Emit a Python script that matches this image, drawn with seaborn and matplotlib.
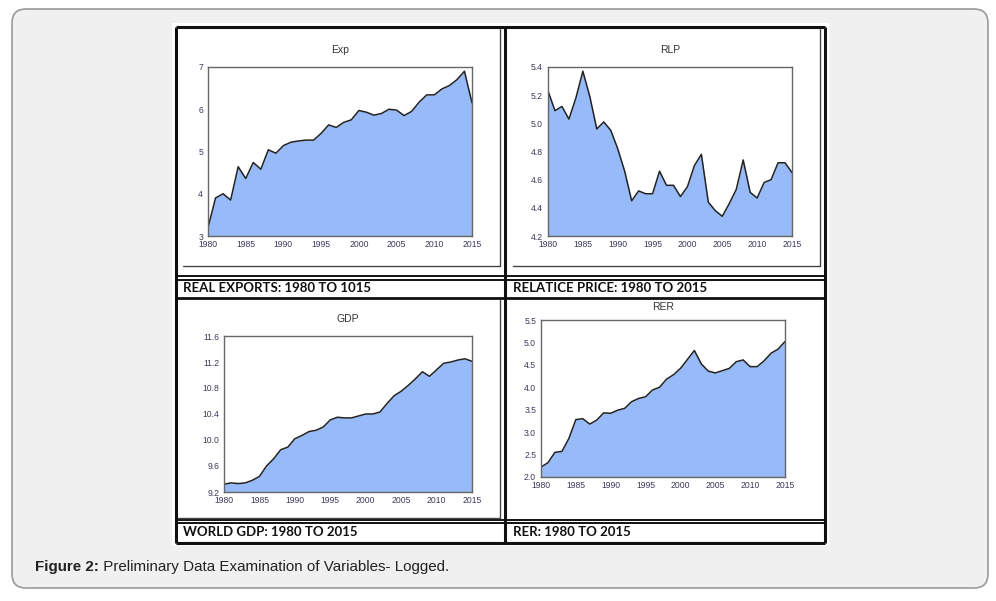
import matplotlib
matplotlib.use("Agg")
import matplotlib.pyplot as plt
import seaborn as sns
import pandas as pd
from matplotlib.patches import FancyBboxPatch, Rectangle

years = list(range(1980, 2016))

exp_vals = [3.2, 3.9, 4.0, 3.85, 4.64, 4.36, 4.74, 4.58, 5.04, 4.96,
            5.14, 5.22, 5.25, 5.27, 5.27, 5.43, 5.63, 5.57, 5.69, 5.75,
            5.97, 5.93, 5.86, 5.9, 6.0, 5.98, 5.85, 5.95, 6.17, 6.34,
            6.34, 6.48, 6.56, 6.7, 6.9, 6.15]

rlp_vals = [5.23, 5.09, 5.12, 5.03, 5.18, 5.37, 5.19, 4.96, 5.01, 4.95,
            4.82, 4.66, 4.45, 4.52, 4.50, 4.50, 4.66, 4.56, 4.56, 4.48,
            4.55, 4.70, 4.78, 4.44, 4.38, 4.34, 4.43, 4.53, 4.74, 4.51,
            4.47, 4.58, 4.60, 4.72, 4.72, 4.65]

gdp_vals = [9.32, 9.34, 9.33, 9.34, 9.38, 9.44, 9.60, 9.71, 9.85, 9.89,
            10.02, 10.07, 10.13, 10.15, 10.20, 10.31, 10.35, 10.34, 10.34, 10.37,
            10.40, 10.40, 10.43, 10.56, 10.68, 10.75, 10.84, 10.94, 11.05, 10.98,
            11.08, 11.18, 11.20, 11.23, 11.25, 11.21]

rer_vals = [2.22, 2.32, 2.55, 2.57, 2.86, 3.28, 3.30, 3.18, 3.27, 3.43,
            3.42, 3.49, 3.53, 3.68, 3.75, 3.79, 3.94, 4.00, 4.18, 4.28,
            4.42, 4.62, 4.82, 4.52, 4.36, 4.32, 4.37, 4.42, 4.57, 4.61,
            4.46, 4.46, 4.59, 4.76, 4.85, 5.02]

xticks = [1980, 1985, 1990, 1995, 2000, 2005, 2010, 2015]
exp_ticks = [3, 4, 5, 6, 7]
rlp_ticks = [4.2, 4.4, 4.6, 4.8, 5.0, 5.2, 5.4]
gdp_ticks = [9.2, 9.6, 10.0, 10.4, 10.8, 11.2, 11.6]
rer_ticks = [2.0, 2.5, 3.0, 3.5, 4.0, 4.5, 5.0, 5.5]

labels = ["REAL EXPORTS: 1980 TO 1015", "RELATICE PRICE: 1980 TO 2015",
          "WORLD GDP: 1980 TO 2015", "RER: 1980 TO 2015"]
caption_bold = "Figure 2:"
caption_rest = " Preliminary Data Examination of Variables- Logged."

df = pd.DataFrame({"year": years, "Exp": exp_vals, "RLP": rlp_vals,
                   "GDP": gdp_vals, "RER": rer_vals})

sns.set_theme(style="white")
plt.rcParams["font.family"] = ["Liberation Sans", "DejaVu Sans"]

W, H = 996, 601
fig = plt.figure(figsize=(W / 100, H / 100), dpi=100)
fig.patch.set_facecolor("white")

# background layer in pixel coordinates
bg = fig.add_axes([0, 0, 1, 1])
bg.set_xlim(0, W)
bg.set_ylim(H, 0)
bg.axis("off")

bg.add_patch(FancyBboxPatch((12, 9), 976, 579, boxstyle="round,pad=0,rounding_size=14",
                            facecolor="#f0f0f0", edgecolor="#9a9a9a", linewidth=1.2))
bg.add_patch(Rectangle((172, 23), 657, 523, facecolor="white", edgecolor="none"))

# table lines
blk = "#111111"
for x in [176, 505, 825]:
    bg.plot([x, x], [27, 543], color=blk, lw=2.2, solid_capstyle="butt")
for y, lw in [(27, 2.2), (276, 1.4), (279.5, 1.4), (298, 2.0), (520, 1.4), (523, 1.4), (543, 2.2)]:
    bg.plot([176, 825], [y, y], color=blk, lw=lw, solid_capstyle="butt")

# chart image borders inside the cells
gry = "#444444"
bg.plot([183, 500], [266, 266], color=gry, lw=1.0)
bg.plot([500, 500], [29, 266], color=gry, lw=1.0)
bg.plot([513, 820], [266, 266], color=gry, lw=1.0)
bg.plot([820, 820], [29, 266], color=gry, lw=1.0)
bg.plot([178, 500], [518, 518], color=gry, lw=1.0)
bg.plot([500, 500], [300, 518], color=gry, lw=1.0)

# label texts
for (x, y), lab in zip([(183, 288), (513, 288), (183, 532), (513, 532)], labels):
    bg.text(x, y, lab, fontsize=9.5, fontweight="bold", family=["Lato", "DejaVu Sans"],
            color="#111111", va="center", ha="left")

t = bg.text(35, 567, caption_bold, fontsize=10.9, fontweight="bold", va="center", ha="left",
            color="#222222")
fig.canvas.draw()
bb = t.get_window_extent()
bg.text(35 + bb.width, 567, caption_rest, fontsize=10.9, va="center", ha="left", color="#222222")

fill_col = "#97baf9"
panels = [
    ("Exp", (208, 67, 472, 236), exp_ticks, "{:.0f}", 50),
    ("RLP", (548, 67, 792, 236), rlp_ticks, "{:.1f}", 50),
    ("GDP", (224, 336, 472, 492), gdp_ticks, "{:.1f}", 319),
    ("RER", (541, 320, 785, 477), rer_ticks, "{:.1f}", 307),
]

for col, (x0, y0, x1, y1), yt, fmt, ty in panels:
    ax = fig.add_axes([x0 / W, 1 - y1 / H, (x1 - x0) / W, (y1 - y0) / H])
    ax.set_facecolor("white")
    lo, hi = yt[0], yt[-1]
    ax.fill_between(df["year"], df[col], lo, color=fill_col, linewidth=0)
    sns.lineplot(data=df, x="year", y=col, ax=ax, color="#222222", linewidth=1.1)
    ax.set_xlim(1980, 2015)
    ax.set_ylim(lo, hi)
    ax.set_xticks(xticks)
    ax.set_yticks(yt)
    ax.set_yticklabels([fmt.format(v) for v in yt])
    ax.set_xlabel("")
    ax.set_ylabel("")
    ax.tick_params(axis="both", labelsize=6.2, colors="#555555", labelcolor="#3a3a5a",
                   length=2, width=0.6, pad=1.5, direction="out")
    ax.tick_params(axis="x", pad=1)
    for s in ax.spines.values():
        s.set_color("#666666")
        s.set_linewidth(1.0)
    bg.text((x0 + x1) / 2, ty, col, fontsize=7.5, ha="center", va="center", color="#333333")

fig.savefig("out.png", dpi=100)
